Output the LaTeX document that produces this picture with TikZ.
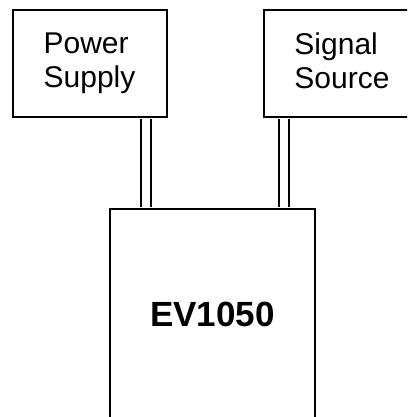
\documentclass[tikz,border=0pt]{standalone}
\usepackage{fontspec}
\setmainfont{Liberation Sans}
\usetikzlibrary{positioning}
\tikzset{
    %Define style for boxes
    unit/.style={
           rectangle,
           draw=black, line width=2pt,
           inner sep=0pt,
           align=left,
           minimum height=107pt,
           font=\fontsize{30}{34}\selectfont},
    % Define cable style
    cable/.style={
           draw=black, line width=2pt,
           double=white, double distance=8pt,
           shorten <=1pt,
           shorten >=1pt}
}

\begin{document}
\begin{tikzpicture}[x=1pt,y=1pt]
\useasboundingbox (0,0) rectangle (407,-417);
\clip (0,0) rectangle (407,-417);
 %nodes
\node[unit, minimum width=154pt] (power) at (89.5,-63.5) {Power\\Supply};
\node[unit, minimum width=157pt, right=95pt of power] (signal) {Signal\\Source\vphantom{y}};
\node[unit, minimum width=205pt, minimum height=211pt,
      font=\fontsize{35}{40}\selectfont\bfseries] (ev) at (212.5,-314.5) {EV1050};
 %cables
\coordinate (pwrout) at ([xshift=56pt]power.south);
\coordinate (sigout) at ([xshift=-58pt]signal.south);
\draw[cable] (pwrout) -- (pwrout |- ev.north);
\draw[cable] (sigout) -- (sigout |- ev.north);
\end{tikzpicture}
\end{document}
